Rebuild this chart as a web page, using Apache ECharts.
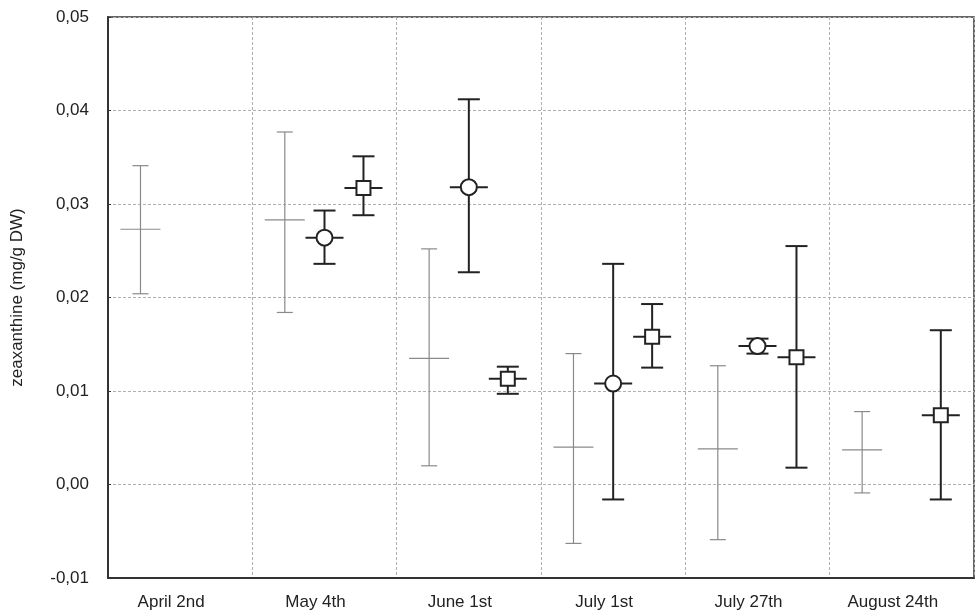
<!DOCTYPE html>
<html>
<head>
<meta charset="utf-8">
<script src="https://cdn.jsdelivr.net/npm/echarts@6/dist/echarts.min.js"></script>
<style>
html, body { margin: 0; padding: 0; background: #fff; }
#main { width: 976px; height: 615px; }
</style>
</head>
<body>
<div id="main"></div>
<script>
var categories = ['April 2nd', 'May 4th', 'June 1st', 'July 1st', 'July 27th', 'August 24th'];

// grey series: plain mean with error bars
var greyMean = [0.0273, 0.0283, 0.0135, 0.0040, 0.0038, 0.0037];
var greyLow  = [0.0204, 0.0184, 0.0020, -0.0063, -0.0059, -0.0009];
var greyHigh = [0.0341, 0.0377, 0.0252, 0.0140, 0.0127, 0.0078];

// circle series
var circleMean = [null, 0.0264, 0.0318, 0.0108, 0.0148, null];
var circleLow  = [null, 0.0236, 0.0227, -0.0016, 0.0140, null];
var circleHigh = [null, 0.0293, 0.0412, 0.0236, 0.0156, null];

// square series
var squareMean = [null, 0.0317, 0.0113, 0.0158, 0.0136, 0.0074];
var squareLow  = [null, 0.0288, 0.0097, 0.0125, 0.0018, -0.0016];
var squareHigh = [null, 0.0351, 0.0126, 0.0193, 0.0255, 0.0165];

function buildData(mean, low, high) {
    var out = [];
    for (var i = 0; i < categories.length; i++) {
        if (mean[i] == null) continue;
        out.push([i, mean[i], low[i], high[i]]);
    }
    return out;
}

function errorSeries(name, mean, low, high, slot, marker, color, lw, capW, tickW) {
    return {
        type: 'custom',
        name: name,
        data: buildData(mean, low, high),
        encode: { x: 0, y: [1, 2, 3] },
        z: marker ? 4 : 3,
        renderItem: function (params, api) {
            var i = api.value(0);
            var m = api.coord([i, api.value(1)]);
            var lo = api.coord([i, api.value(2)]);
            var hi = api.coord([i, api.value(3)]);
            var band = api.size([1, 0])[0];
            var x = m[0] + slot * band;
            var st = { stroke: color, lineWidth: lw, fill: null };
            var kids = [
                { type: 'line', shape: { x1: x, y1: hi[1], x2: x, y2: lo[1] }, style: st },
                { type: 'line', shape: { x1: x - capW / 2, y1: hi[1], x2: x + capW / 2, y2: hi[1] }, style: st },
                { type: 'line', shape: { x1: x - capW / 2, y1: lo[1], x2: x + capW / 2, y2: lo[1] }, style: st },
                { type: 'line', shape: { x1: x - tickW / 2, y1: m[1], x2: x + tickW / 2, y2: m[1] }, style: st }
            ];
            if (marker === 'circle') {
                kids.push({ type: 'circle', shape: { cx: x, cy: m[1], r: 8 },
                    style: { fill: '#fff', stroke: color, lineWidth: lw } });
            } else if (marker === 'square') {
                kids.push({ type: 'rect', shape: { x: x - 7, y: m[1] - 7, width: 14, height: 14 },
                    style: { fill: '#fff', stroke: color, lineWidth: lw } });
            }
            return { type: 'group', children: kids };
        }
    };
}

var option = {
    backgroundColor: '#fff',
    animation: false,
    textStyle: { fontFamily: 'Liberation Sans, Arial, sans-serif' },
    grid: { left: 108, right: 2, top: 17, bottom: 37, show: true, borderColor: '#333', borderWidth: 1.5 },
    xAxis: {
        type: 'category',
        data: categories,
        boundaryGap: true,
        axisLine: { onZero: false, lineStyle: { color: '#333', width: 2 } },
        axisTick: { show: false },
        axisLabel: { color: '#222', fontSize: 17, margin: 16, padding: [0, 18, 0, 0] },
        splitLine: { show: true, interval: 0, lineStyle: { color: '#b0b0b0', type: [3, 2], width: 1 } }
    },
    yAxis: {
        type: 'value',
        min: -0.01,
        max: 0.05,
        interval: 0.01,
        name: 'zeaxanthine (mg/g DW)',
        nameLocation: 'middle',
        nameGap: 82,
        nameTextStyle: { color: '#222', fontSize: 17 },
        axisLine: { show: true, lineStyle: { color: '#333', width: 2 } },
        axisTick: { show: true, inside: true, length: 3, lineStyle: { color: '#333' } },
        axisLabel: {
            color: '#222', fontSize: 17, margin: 19,
            formatter: function (v) { return v.toFixed(2).replace('.', ','); }
        },
        splitLine: { show: true, lineStyle: { color: '#b0b0b0', type: [3, 2], width: 1 } }
    },
    series: [
        errorSeries('grey', greyMean, greyLow, greyHigh, -0.275, null, '#8a8a8a', 1.2, 16, 40),
        errorSeries('circle', circleMean, circleLow, circleHigh, 0, 'circle', '#222', 2, 22, 38),
        errorSeries('square', squareMean, squareLow, squareHigh, 0.27, 'square', '#222', 2, 22, 38)
    ]
};

var myChart = echarts.init(document.getElementById('main'));
myChart.setOption(option);
</script>
</body>
</html>
